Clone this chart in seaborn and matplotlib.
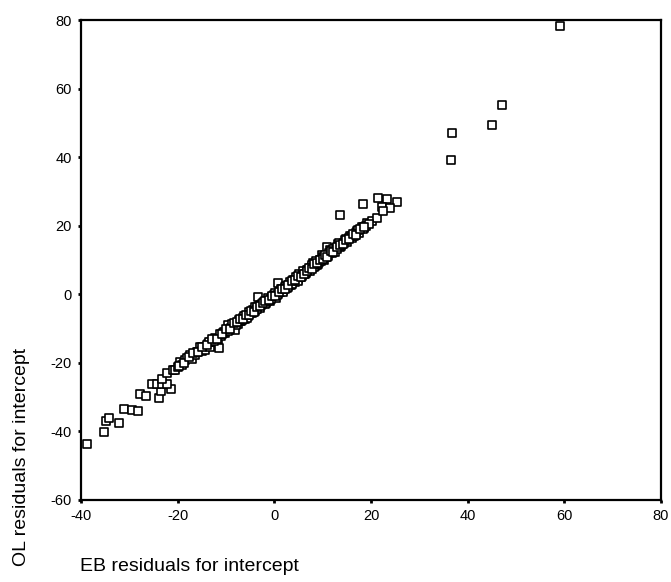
import pandas as pd
import seaborn as sns
import matplotlib.pyplot as plt

# EB residuals (x) and OL residuals (y) for the intercept
eb_resid = [
    -38.8, -35.2, -34.8, -34.2, -32.1, -31.1, -29.4, -28.2, -27.8, -26.6,
    -23.9, -23.4, -21.4, -25.3, -24.3, -23.2, -22.2, -23.2, -22.2, -21.0,
    -20.6, -20.0, -19.5, -19.0, -18.4, -18.0, -17.4, -17.0, -16.5, -16.0,
    -15.4, -15.0, -14.6, -14.3, -13.8, -13.3, -13.0, -12.6, -12.2, -11.7,
    -11.4, -11.0, -10.6, -10.2, -9.8, -9.6, -9.3, -9.0, -8.6, -8.1,
    -8.0, -7.6, -7.2, -6.9, -6.5, -6.1, -5.8, -5.4, -5.0, -4.7,
    -4.4, -4.0, -3.7, -3.4, -3.2, -2.9, -2.5, -2.2, -1.8, -1.5,
    -1.1, -0.8, -0.4, 0.0, 0.3, 0.8, 0.7, 1.1, 1.5, 1.9,
    2.2, 2.6, 3.0, 3.4, 3.9, 4.2, 4.6, 5.0, 5.4, 5.8,
    6.2, 6.6, 7.0, 7.3, 7.7, 8.0, 8.4, 8.8, 9.2, 9.5,
    9.9, 10.3, 10.6, 10.9, 11.2, 11.5, 11.9, 12.3, 12.7, 13.2,
    13.6, 14.0, 14.6, 15.0, 15.7, 16.1, 16.6, 17.1, 17.6, 18.1,
    18.6, 19.2, 20.2, 21.2,
    -19.8, -18.7, -17.7, -16.8, -15.7, -14.9, -13.6, -12.4, -11.2, -10.4,
    -9.5, -8.8, -7.9, -7.4, -6.7, -6.3, -5.6, -5.2, -4.5, -3.9,
    -3.5, -2.7, -2.0, -1.3, -0.6, 0.1, 0.5, 1.3, 1.7, 2.4,
    2.8, 3.2, 3.7, 4.4, 4.8, 5.2, 5.6, 6.0, 6.4, 6.8,
    7.5, 7.9, 8.2, 8.6, 9.0, 9.7, 10.1, 10.8, 11.4, 12.1,
    12.5, 13.0, 13.4, 13.9, 14.4, 14.8, 15.4, 16.0, 16.4, 17.0,
    17.4, 18.3, 18.9, 19.6,
    -14.0, -12.9, -11.9, -10.8, -10.0, -9.1, -8.4, -7.7, -7.0, -6.4,
    -5.9, -5.3, -4.8, -4.2, -3.6, -3.0, -2.4, -1.9, -1.2, -0.5,
    0.2, 0.9, 1.6, 2.3, 2.9, 3.6, 4.3, 4.9, 5.5, 6.1,
    6.7, 7.2, 7.8, 8.3, 8.9, 9.4, 10.0, 10.5, 11.0, 11.7,
    12.2, 12.9, 13.5, 14.2, 14.9, 15.5, 16.3, 16.9, 17.8, 18.5,
    13.6, 18.3, 21.5, 23.3, 25.4, 22.3, 23.9, 22.5,
    36.6, 36.8, 45.0, 47.1, 59.1,
]
ol_resid = [
    -43.7, -40.2, -37.0, -36.1, -37.5, -33.5, -33.8, -34.1, -29.1, -29.7,
    -30.3, -28.2, -27.6, -26.2, -26.2, -26.2, -26.2, -24.7, -23.0, -22.1,
    -22.0, -21.2, -19.8, -20.6, -19.3, -18.6, -17.7, -18.8, -17.6, -16.9,
    -15.4, -16.4, -15.9, -16.3, -14.6, -15.4, -13.9, -13.8, -12.7, -13.4,
    -15.7, -12.2, -11.3, -11.4, -10.3, -9.0, -10.4, -9.7, -9.5, -10.4,
    -8.6, -8.7, -7.9, -7.8, -6.9, -7.2, -6.3, -6.4, -5.4, -5.6,
    -4.6, -4.8, -4.2, -0.8, -3.5, -3.9, -2.9, -2.2, -2.6, -1.9,
    -1.3, -1.9, -0.7, -0.3, -1.0, 3.3, 0.2, 0.6, 0.9, 1.2,
    2.0, 1.8, 2.8, 2.6, 4.1, 3.7, 4.6, 4.4, 5.5, 5.3,
    6.3, 6.1, 7.2, 6.8, 8.0, 9.1, 8.2, 8.6, 9.4, 10.0,
    11.4, 10.1, 11.2, 13.8, 11.3, 12.9, 12.0, 12.8, 13.6, 14.6,
    13.8, 14.6, 15.8, 15.2, 17.0, 16.5, 17.3, 18.4, 18.0, 19.6,
    19.2, 20.8, 21.3, 22.2,
    -20.9, -19.9, -18.3, -17.0, -16.8, -15.3, -14.0, -13.5, -11.6, -10.9,
    -10.6, -8.8, -9.1, -7.4, -7.6, -6.4, -6.9, -5.1, -5.3, -3.8,
    -4.4, -3.1, -2.8, -1.0, -1.4, 0.4, -0.2, 1.4, 0.6, 2.5,
    2.1, 3.5, 3.1, 4.9, 3.9, 5.9, 4.9, 6.8, 5.8, 7.0,
    7.6, 8.6, 7.9, 9.6, 8.9, 9.8, 11.0, 10.8, 12.0, 13.3,
    12.4, 13.2, 14.9, 14.0, 15.1, 16.0, 16.4, 17.1, 16.9, 17.8,
    18.7, 18.9, 20.0, 20.4,
    -14.9, -13.1, -12.9, -11.7, -10.1, -10.0, -8.4, -8.2, -7.1, -7.3,
    -5.9, -6.0, -4.9, -5.1, -3.7, -3.3, -2.5, -2.0, -1.6, -0.4,
    -0.5, 0.8, 1.5, 1.6, 2.6, 3.9, 4.1, 5.3, 5.1, 6.0,
    6.8, 7.7, 7.3, 8.9, 9.1, 9.9, 10.4, 11.6, 11.0, 12.5,
    12.3, 13.9, 14.3, 14.8, 15.9, 16.2, 17.6, 17.3, 19.0, 19.7,
    23.1, 26.3, 28.0, 27.8, 26.9, 25.4, 25.1, 24.3,
    39.1, 47.0, 49.3, 55.2, 78.2,
]
x_ticks = [-40, -20, 0, 20, 40, 60, 80]
y_ticks = [-60, -40, -20, 0, 20, 40, 60, 80]

df = pd.DataFrame({'EB': eb_resid, 'OL': ol_resid})

sns.set_style('ticks')
plt.rcParams['font.family'] = ['Liberation Sans', 'DejaVu Sans']
plt.rcParams['axes.unicode_minus'] = False
plt.rcParams['text.color'] = 'black'
plt.rcParams['xtick.color'] = 'black'
plt.rcParams['ytick.color'] = 'black'

fig = plt.figure(figsize=(6.71, 5.82), dpi=100)
ax = fig.add_axes([0.1207, 0.1409, 0.8643, 0.8247])

sns.scatterplot(data=df, x='EB', y='OL', marker='s', s=34, color='white',
                edgecolor='black', linewidth=1.2, ax=ax, zorder=3)

ax.set_xlim(-40, 80)
ax.set_ylim(-60, 80)
ax.set_xticks(x_ticks)
ax.set_yticks(y_ticks)
ax.tick_params(length=2.5, width=2, color='black', labelsize=10.5, pad=4,
               labelcolor='black')
for sp in ax.spines.values():
    sp.set_linewidth(1.6)
    sp.set_color('black')
ax.set_xlabel('')
ax.set_ylabel('')

fig.text(0.119, 0.012, 'EB residuals for intercept', fontsize=14, ha='left', va='bottom')
fig.text(0.032, 0.215, 'OL residuals for intercept', fontsize=14, rotation=90,
         ha='center', va='center')

fig.savefig('out.png', dpi=100)
